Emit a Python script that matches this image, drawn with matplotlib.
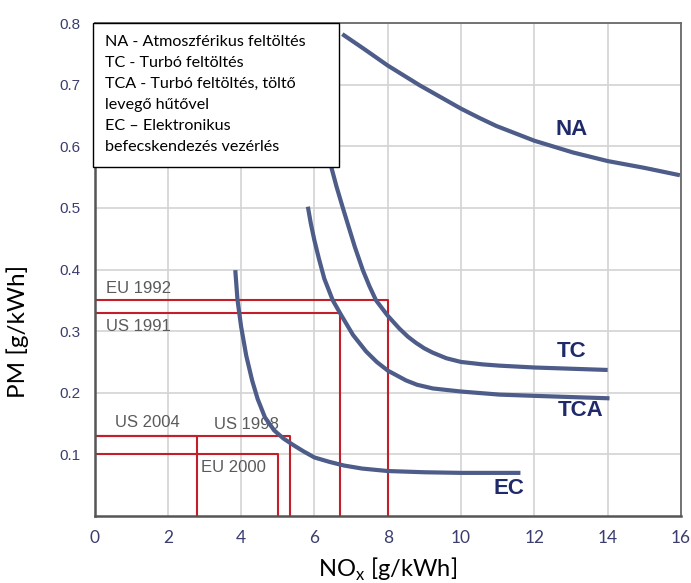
import matplotlib
matplotlib.use("Agg")
import matplotlib.pyplot as plt
from matplotlib.patches import Rectangle

# görbék (NOx [g/kWh], PM [g/kWh]) - leolvasva az ábráról
na_x = [6.76, 7.4, 8.0, 8.87, 10.0, 10.5, 10.96, 12.0, 13.05, 14.0, 15.0, 15.97]
na_y = [0.782, 0.756, 0.731, 0.699, 0.661, 0.646, 0.633, 0.609, 0.590, 0.576, 0.565, 0.553]

tc_x = [6.42, 6.6, 6.78, 6.95, 7.1, 7.32, 7.5, 7.68, 8.0, 8.32, 8.55, 8.77, 9.0, 9.23, 9.6, 10.0, 10.6, 11.05, 12.0, 14.0]
tc_y = [0.575, 0.535, 0.499, 0.466, 0.437, 0.399, 0.373, 0.350, 0.325, 0.304, 0.291, 0.281, 0.272, 0.265, 0.256, 0.250, 0.246, 0.244, 0.241, 0.237]

tca_x = [5.82, 5.9, 6.0, 6.12, 6.27, 6.5, 6.73, 7.05, 7.41, 7.7, 8.0, 8.5, 8.8, 9.23, 10.0, 11.05, 12.0, 14.05]
tca_y = [0.502, 0.475, 0.447, 0.418, 0.385, 0.350, 0.326, 0.294, 0.267, 0.250, 0.236, 0.220, 0.213, 0.207, 0.202, 0.197, 0.195, 0.191]

ec_x = [3.84, 3.9, 4.0, 4.14, 4.3, 4.45, 4.65, 4.9, 5.15, 5.4, 5.7, 6.0, 6.4, 6.8, 7.3, 8.0, 9.0, 10.0, 11.62]
ec_y = [0.399, 0.351, 0.307, 0.260, 0.220, 0.190, 0.160, 0.139, 0.126, 0.116, 0.105, 0.095, 0.088, 0.082, 0.077, 0.073, 0.071, 0.070, 0.070]

# határértékek
limit_names = ["EU 1992", "US 1991", "US 1998", "US 2004", "EU 2000"]
limit_nox = [8.0, 6.7, 5.33, 2.8, 5.0]
limit_pm = [0.35, 0.33, 0.13, 0.13, 0.10]

x_ticks = [0, 2, 4, 6, 8, 10, 12, 14, 16]
y_ticks = [0.1, 0.2, 0.3, 0.4, 0.5, 0.6, 0.7, 0.8]

legend_lines = [
    "NA - Atmoszférikus feltöltés",
    "TC - Turbó feltöltés",
    "TCA - Turbó feltöltés, töltő",
    "levegő hűtővel",
    "EC \u2013 Elektronikus",
    "befecskendezés vezérlés",
]

curve_col = "#4d5c88"
red = "#c21f2a"

fig = plt.figure(figsize=(6.91, 5.83), dpi=100)
ax = fig.add_axes([0.1368, 0.1149, 0.8487, 0.8456])
ax.set_xlim(0, 16)
ax.set_ylim(0, 0.8)

ax.set_xticks(x_ticks)
ax.set_yticks(y_ticks)
ax.set_yticklabels(["%.1f" % v for v in y_ticks])
ax.grid(True, color="#d3d3d3", lw=1.2)
ax.set_axisbelow(True)
ax.tick_params(length=0, pad=10, colors="#3a3d6e")
for lab in ax.get_xticklabels():
    lab.set_family("Lato")
    lab.set_fontsize(12.5)
for lab in ax.get_yticklabels():
    lab.set_family("Liberation Sans")
    lab.set_fontsize(11)

for side in ["left", "bottom"]:
    ax.spines[side].set_color("#555555")
    ax.spines[side].set_linewidth(1.8)
for side in ["top", "right"]:
    ax.spines[side].set_color("#6a6a6a")
    ax.spines[side].set_linewidth(1.3)

# határérték téglalapok
for nx, pm in zip(limit_nox, limit_pm):
    ax.plot([0, nx, nx], [pm, pm, 0], color=red, lw=1.5, zorder=2)

lab_kw = dict(color="#5a5a5a", fontsize=12, family="Liberation Sans", va="center")
ax.text(0.32, 0.370, "EU 1992", **lab_kw)
ax.text(0.32, 0.308, "US 1991", **lab_kw)
ax.text(0.55, 0.151, "US 2004", **lab_kw)
ax.text(3.25, 0.149, "US 1998", **lab_kw)
ax.text(2.9, 0.078, "EU 2000", **lab_kw)

# görbék
for xs, ys in [(na_x, na_y), (tc_x, tc_y), (tca_x, tca_y), (ec_x, ec_y)]:
    ax.plot(xs, ys, color=curve_col, lw=3, solid_capstyle="butt", solid_joinstyle="round", zorder=3)

cl_kw = dict(color="#1f2a6b", fontsize=16, fontweight="bold", family="Liberation Sans",
             ha="center", va="center")
ax.text(13.02, 0.628, "NA", **cl_kw)
ax.text(13.02, 0.267, "TC", **cl_kw)
ax.text(13.25, 0.171, "TCA", **cl_kw)
ax.text(11.3, 0.044, "EC", **cl_kw)

# jelmagyarázat doboz
ax.add_patch(Rectangle((-0.03, 0.566), 6.7, 0.234, facecolor="white", edgecolor="black",
                       lw=1.0, zorder=5, clip_on=False))
ax.text(0.29, 0.781, "\n".join(legend_lines), family="Lato", fontsize=11.6, va="top",
        ha="left", linespacing=1.65, zorder=6)

ax.set_xlabel("NO$_\\mathregular{x}$ [g/kWh]", family="Lato", fontsize=17, color="black")
ax.set_ylabel("PM [g/kWh]", family="Lato", fontsize=17.5, color="black")
ax.xaxis.set_label_coords(0.5, -0.081)
ax.yaxis.set_label_coords(-0.112, 0.375)

fig.savefig("out.png", dpi=100)
